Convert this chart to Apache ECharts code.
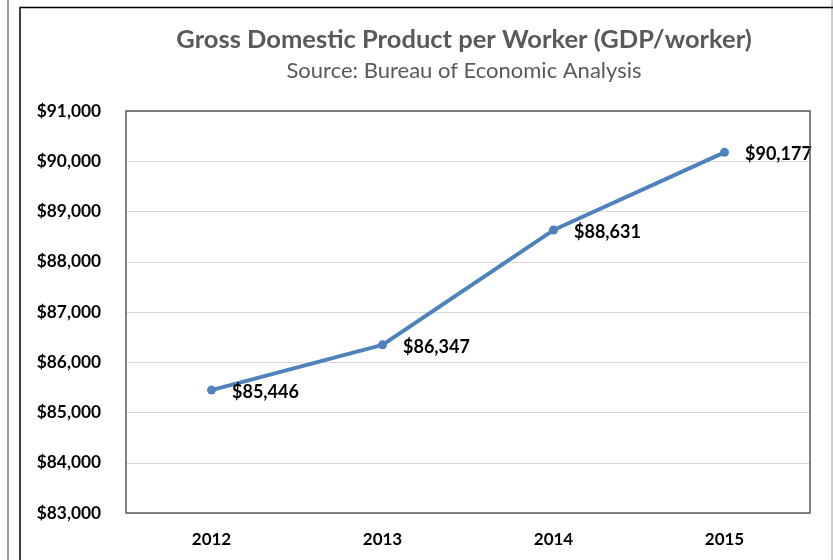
<!DOCTYPE html>
<html>
<head>
<meta charset="utf-8">
<script src="https://cdn.jsdelivr.net/npm/echarts@6/dist/echarts.min.js"></script>
<style>
html,body{margin:0;padding:0;background:#fff;}
#chart{width:833px;height:560px;}
</style>
</head>
<body>
<div id="chart"></div>
<script>
const years = ['2012', '2013', '2014', '2015'];
const gdpPerWorker = [85446, 86347, 88631, 90177];
const yMin = 83000, yMax = 91000, yStep = 1000;
const titleText = 'Gross Domestic Product per Worker (GDP/worker)';
const subtitleText = 'Source: Bureau of Economic Analysis';

function money(v){ return '$' + v.toLocaleString('en-US'); }

const chart = echarts.init(document.getElementById('chart'), null, {renderer:'canvas'});
const font = 'Lato, "Open Sans", sans-serif';
chart.setOption({
  animation:false,
  backgroundColor:'#fff',
  title:{
    text:titleText,
    subtext:subtitleText,
    left:459, textAlign:'center', top:22,
    itemGap:7,
    textStyle:{fontFamily:font, fontWeight:'bold', fontSize:25.5, color:'#595959'},
    subtextStyle:{fontFamily:font, fontSize:22, color:'#595959'}
  },
  graphic:[
    {type:'line', shape:{x1:8, y1:0, x2:8, y2:560}, style:{stroke:'#999', lineWidth:2}, silent:true},
    {type:'line', shape:{x1:832, y1:0, x2:832, y2:560}, style:{stroke:'#bbb', lineWidth:1.5}, silent:true},
    {type:'polyline', shape:{points:[[20,560],[20,7.5],[833,7.5]]}, style:{stroke:'#000', lineWidth:1.5, fill:null}, silent:true},
    {type:'rect', shape:{x:126, y:111, width:684, height:402}, style:{stroke:'#595959', lineWidth:1.5, fill:null}, silent:true, z:10}
  ],
  grid:{left:126, top:111, width:684, height:402, containLabel:false},
  xAxis:{
    type:'category', data:years, boundaryGap:true,
    axisLine:{show:false}, axisTick:{show:false},
    axisLabel:{fontFamily:font, fontWeight:'bold', fontSize:17, color:'#000', margin:18}
  },
  yAxis:{
    type:'value', min:yMin, max:yMax, interval:yStep,
    axisLine:{show:false}, axisTick:{show:false},
    splitLine:{lineStyle:{color:'#d9d9d9', width:1}},
    axisLabel:{fontFamily:font, fontWeight:'bold', fontSize:17.3, color:'#000', margin:25, formatter:money}
  },
  series:[{
    type:'line', data:gdpPerWorker,
    symbol:'circle', symbolSize:9,
    lineStyle:{color:'#4F81BD', width:4},
    itemStyle:{color:'#4F81BD'},
    label:{show:true, position:'right', distance:16, offset:[0,2],
      fontFamily:font, fontWeight:'bold', fontSize:18, color:'#000', formatter:p=>money(p.value)}
  }]
});
</script>
</body>
</html>
